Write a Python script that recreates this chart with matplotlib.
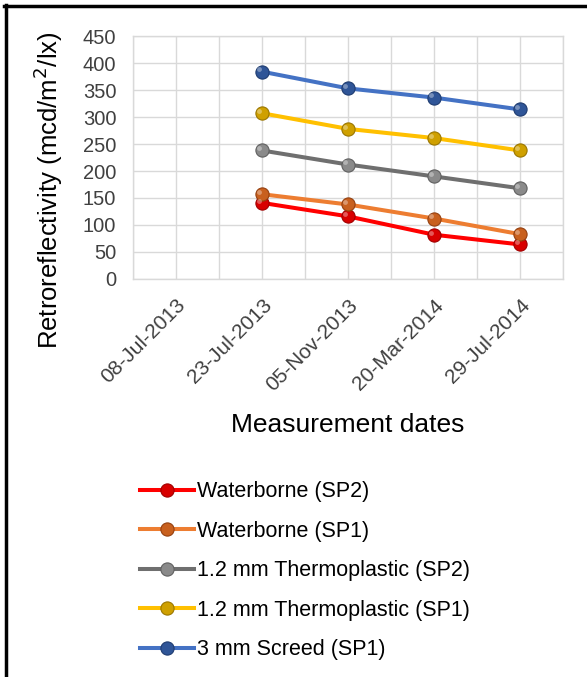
import numpy as np
import matplotlib
matplotlib.use('Agg')
import matplotlib.pyplot as plt
from matplotlib.lines import Line2D

plt.rcParams['font.family'] = ['Liberation Sans', 'DejaVu Sans']

dates = ['08-Jul-2013', '23-Jul-2013', '05-Nov-2013', '20-Mar-2014', '29-Jul-2014']
waterborne_sp2 = [np.nan, 141, 116, 82, 64]
waterborne_sp1 = [np.nan, 157, 138, 112, 83]
thermo_sp2 = [np.nan, 238, 212, 190, 168]
thermo_sp1 = [np.nan, 307, 278, 261, 238]
screed_sp1 = [np.nan, 384, 353, 336, 314]

labels = ['Waterborne (SP2)', 'Waterborne (SP1)', '1.2 mm Thermoplastic (SP2)',
          '1.2 mm Thermoplastic (SP1)', '3 mm Screed (SP1)']
line_colors = ['#ff0000', '#ed7d31', '#6f6f6f', '#ffc000', '#4472c4']
marker_colors = ['#d80000', '#c8601e', '#8a8a8a', '#cfa000', '#2f5597']
edge_colors = ['#a00000', '#944010', '#606060', '#9a7600', '#1f3c70']
series = [waterborne_sp2, waterborne_sp1, thermo_sp2, thermo_sp1, screed_sp1]

fig = plt.figure(figsize=(5.87, 6.77), dpi=100)
ax = fig.add_axes([0.2266, 0.5879, 0.7326, 0.3589])

x = np.arange(len(dates))
handles = []
for vals, lc, mc, ec, lab in zip(series, line_colors, marker_colors, edge_colors, labels):
    ln, = ax.plot(x, vals, color=lc, linewidth=2.9, marker='o', markersize=9.5,
                  markerfacecolor=mc, markeredgecolor=ec, markeredgewidth=0.8,
                  label=lab, zorder=3)
    # small highlight for the shiny sphere look
    ax.plot(x - 0.03, np.array(vals) + 4, linestyle='none', marker='o', markersize=3.5,
            markerfacecolor='white', markeredgewidth=0, alpha=0.35, zorder=4)
    handles.append(ln)

ax.set_xlim(-0.5, len(dates) - 0.5)
ax.set_ylim(0, 450)
ax.set_yticks(np.arange(0, 451, 50))
ax.set_xticks(x)
ax.set_xticklabels(dates, rotation=45, ha='right', rotation_mode='anchor')
ax.set_xticks(np.arange(-0.5, len(dates), 0.5), minor=True)
ax.grid(True, which='minor', axis='x', color='#d9d9d9', linewidth=1)
ax.grid(True, which='major', axis='both', color='#d9d9d9', linewidth=1)
ax.set_axisbelow(True)
ax.tick_params(axis='both', which='both', length=0, colors='#404040')
ax.tick_params(axis='y', pad=12, labelsize=14.5)
ax.tick_params(axis='x', pad=12, labelsize=15)
for sp in ax.spines.values():
    sp.set_color('#d9d9d9')
    sp.set_linewidth(1)

ax.set_ylabel('Retroreflectivity (mcd/m$^2$/lx)', fontsize=18.5, color='black')
ax.yaxis.set_label_coords(-0.158, 0.365)
ax.set_xlabel('Measurement dates', fontsize=19, color='black')
ax.xaxis.set_label_coords(0.5, -0.55)

fig.legend(handles=handles, labels=labels, loc='upper left',
           bbox_to_anchor=(0.206, 0.318), frameon=False, fontsize=15.5,
           handlelength=2.5, handletextpad=0.12, labelspacing=0.86)

# frame lines (top and left only, as in the reference)
fig.add_artist(Line2D([0.006, 1.0], [0.9905, 0.9905], color='black', linewidth=2.5,
                      transform=fig.transFigure))
fig.add_artist(Line2D([0.0102, 0.0102], [0.0, 0.992], color='black', linewidth=2.5,
                      transform=fig.transFigure))

fig.savefig('out.png', dpi=100)
